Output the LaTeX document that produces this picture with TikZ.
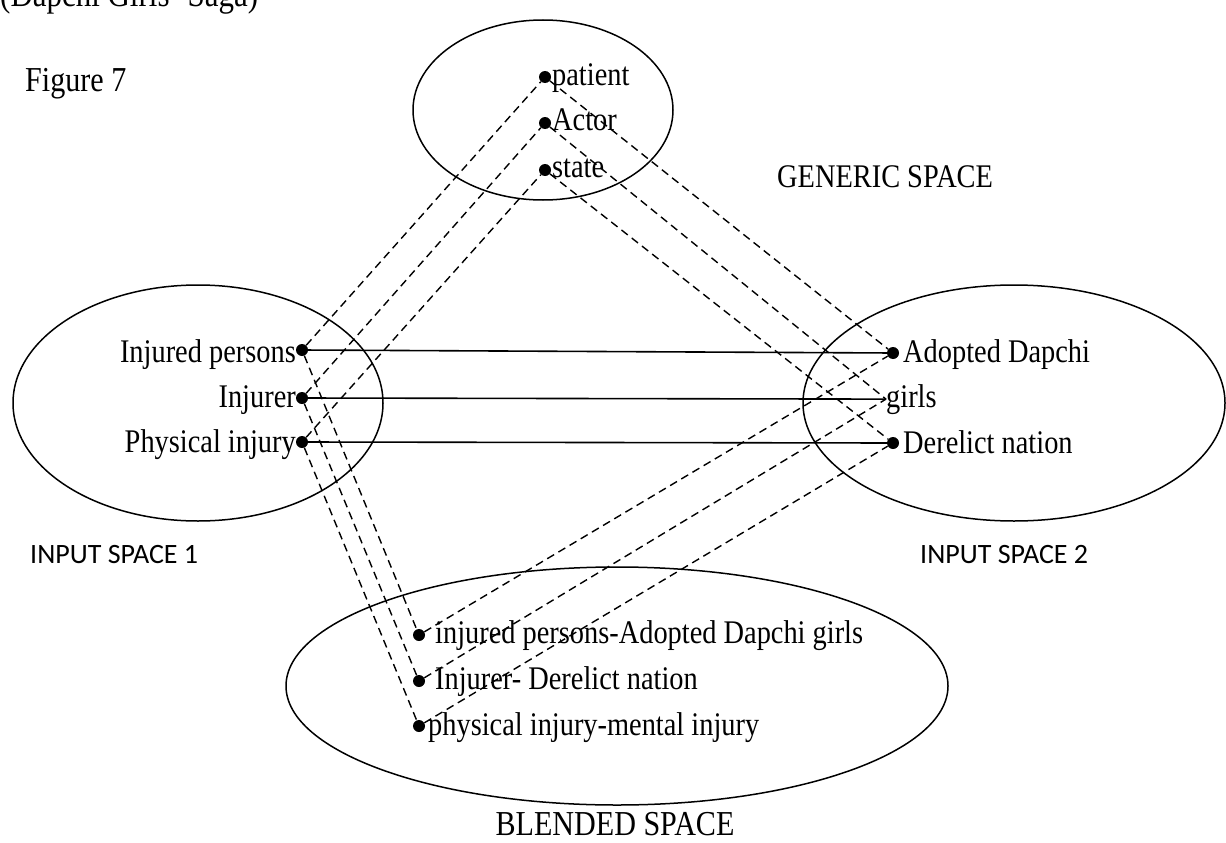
\documentclass[tikz,border=0pt]{standalone}
\usepackage{fontspec}
\setmainfont{Liberation Serif}[FakeStretch=0.86]
\newfontfamily\capsans{Carlito}
\begin{document}
\begin{tikzpicture}[x=1pt,y=-1pt,
  dot/.style={circle, fill=black, inner sep=0pt, minimum size=12pt},
  lbl/.style={inner sep=0pt, font=\fontsize{33}{36}\selectfont},
  spacetitle/.style={inner sep=0pt, font=\fontsize{35}{37}\selectfont},
  sanstitle/.style={inner sep=0pt, font=\capsans\fontsize{28}{30}\selectfont},
  link/.style={line width=1.4pt, dash pattern=on 8pt off 5pt},
  bond/.style={line width=1.6pt},
  region/.style={line width=1.5pt}]
\useasboundingbox (0,0) rectangle (1226,843);

% caption lines
\node[inner sep=0pt, anchor=base west, font=\fontsize{36}{38}\selectfont] (saga) at (0,7) {(Dapchi Girls’ Saga)};
\node[inner sep=0pt, anchor=base west, font=\fontsize{35}{38}\selectfont] (fig) at (25,92) {Figure 7};

% the four mental spaces
\draw[region] (543,110) ellipse [x radius=130pt, y radius=90pt];
\draw[region] (198,403) ellipse [x radius=185pt, y radius=118pt];
\draw[region] (1014,403) ellipse [x radius=211pt, y radius=118pt];
\draw[region] (617,686) ellipse [x radius=331pt, y radius=119pt];

\node[spacetitle, font=\fontsize{33}{36}\selectfont, anchor=base west] (tgen) at (777,187) {GENERIC SPACE};
\node[sanstitle, anchor=base west] (tin1) at (30,563) {INPUT SPACE 1};
\node[sanstitle, anchor=base west] (tin2) at (920,563) {INPUT SPACE 2};
\node[spacetitle, anchor=base] (tbl) at (615,835) {BLENDED SPACE};

% generic space elements
\node[dot] (gp) at (545,77) {};
\node[dot] (ga) at (545,123) {};
\node[dot] (gs) at (545,170) {};
\node[lbl, anchor=base west] (lgp) at (552,85) {patient};
\node[lbl, anchor=base west] (lga) at (552,130) {Actor};
\node[lbl, anchor=base west] (lgs) at (552,177) {state};

% input space 1 elements
\node[dot] (ip) at (302,350) {};
\node[dot] (ir) at (302,398) {};
\node[dot] (iy) at (302,442) {};
\node[lbl, anchor=base east] (lip) at (296,362) {Injured persons};
\node[lbl, anchor=base east] (lir) at (296,407) {Injurer};
\node[lbl, anchor=base east] (liy) at (296,452) {Physical injury};

% input space 2 elements
\node[dot] (ad) at (893,353) {};
\node[dot] (dn) at (893,443) {};
\node[lbl, anchor=base west] (lad) at (903,362) {Adopted Dapchi};
\node[lbl, anchor=base west] (gl) at (886,407) {girls};
\node[lbl, anchor=base west] (ldn) at (903,453) {Derelict nation};

% blended space elements
\node[dot] (b1) at (419,635) {};
\node[dot] (b2) at (419,681) {};
\node[dot] (b3) at (419,726) {};
\node[lbl, anchor=base west] (lb1) at (435,643) {injured persons-Adopted Dapchi girls};
\node[lbl, anchor=base west] (lb2) at (435,689) {Injurer- Derelict nation};
\node[lbl, anchor=base west] (lb3) at (428,735) {physical injury-mental injury};

% cross-space counterpart mappings
\draw[bond] (ip) -- (ad);
\draw[bond] (ir) -- (gl.west);
\draw[bond] (iy) -- (dn);

% links to the generic space
\draw[link] (ip) -- (gp);
\draw[link] (ir) -- (ga);
\draw[link] (iy) -- (gs);
\draw[link] (gp) -- (ad);
\draw[link] (ga) -- (gl.west);
\draw[link] (gs) -- (dn);

% projections into the blend
\draw[link] (ip) -- (b1);
\draw[link] (ir) -- (b2);
\draw[link] (iy) -- (b3);
\draw[link] (b1) -- (ad);
\draw[link] (b2) -- (gl.west);
\draw[link] (b3) -- (dn);
\end{tikzpicture}
\end{document}
